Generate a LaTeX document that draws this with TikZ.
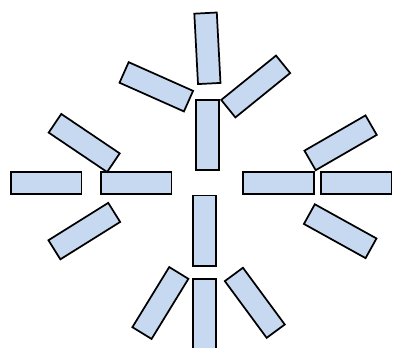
\documentclass[tikz,border=0pt]{standalone}
\definecolor{barblue}{RGB}{198,217,240}
\begin{document}
\begin{tikzpicture}[x=0.75pt, y=0.75pt,
  bar/.style={draw, fill=barblue, line width=1.3pt, inner sep=0pt, minimum width=70.5*0.75pt, minimum height=22.5*0.75pt}]
\useasboundingbox (0,0) rectangle (393,347);
% horizontal row
\node[bar] (lfar) at (46.3,164.1) {};
\node[bar] (linner) at (136.3,164.1) {};
\node[bar] (rinner) at (278.5,164.1) {};
\node[bar] (rfar) at (356.2,164.1) {};
% vertical column
\node[bar, rotate=90] (topc) at (207.5,212) {};
\node[bar, rotate=90] (botup) at (204.5,116.2) {};
\node[bar, rotate=90] (botlow) at (204.5,33) {};
% tilted ones
\node[bar, rotate=93] (toptop) at (207.4,298.7) {};
\node[bar, rotate=-24] (topleft) at (156.3,260.2) {};
\node[bar, rotate=39] (topright) at (255.7,260.5) {};
\node[bar, rotate=-34] (lup) at (84.2,204) {};
\node[bar, rotate=32] (llow) at (84.3,115.9) {};
\node[bar, rotate=30] (rup) at (340.6,204.2) {};
\node[bar, rotate=-29] (rlow) at (340.2,115.8) {};
\node[bar, rotate=58.5] (bl) at (160.4,44) {};
\node[bar, rotate=-53.6] (br) at (254.8,44.2) {};
\end{tikzpicture}
\end{document}
